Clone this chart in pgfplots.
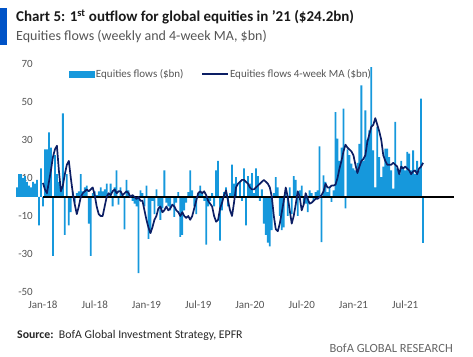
\documentclass[border=0pt]{standalone}
\usepackage{fontspec}
\setmainfont{Carlito}
\usepackage{pgfplots}
\usepackage{pgfplotstable}
\pgfplotsset{compat=1.18}
\definecolor{barblue}{RGB}{22,152,220}
\definecolor{manavy}{RGB}{12,30,100}
\definecolor{bofablue}{RGB}{0,83,199}
\definecolor{ticklbl}{RGB}{85,85,85}

\pgfplotstableread{
w v
-13 5
-12 12
-11 12
-10 10
-9 11
-8 8
-7 6
-6 5
-5 8
-4 7
-3 9
-2 -15
-1 15
0 -5
1 25
2 25
3 34
4 26
5 -31
6 22
7 12
8 8
9 4
10 44
11 -20
12 12
13 -15
14 -8
15 3
16 -3
17 2
18 3
19 12
20 3
21 5
22 6
23 -14
24 -31
25 2
26 3
27 1
28 3
29 5
30 3
31 4
32 7
33 2
34 7
35 -5
36 5
37 14
38 -4
39 5
40 1
41 -17
42 9
43 3.5
44 0.5
45 -2
46 -3.5
47 -5
48 -40
49 3.5
50 2
51 -5
52 6
53 -22
54 -19
55 -2
56 -9
57 4
58 -5
59 -12
60 -6
61 14
62 -3
63 -5
64 -7
65 0.5
66 -10.5
67 -3
68 2.5
69 -21
70 -20
71 -7
72 -3
73 2.5
74 14
75 3.5
76 -5
77 -9
78 2
79 6
80 2
81 -2
82 -25
83 -5
84 -2
85 2
86 -5
87 14
88 19
89 -23
90 -7
91 2.5
92 5
93 -5
94 2
95 17
96 7
97 10.5
98 0.5
99 8
100 -2
101 15
102 -15
103 11
104 7
105 12.6
106 2
107 15
108 11
109 -2
110 4
111 -14
112 -20
113 -24
114 -26
115 -17.5
116 2
117 10.5
118 5
119 -10
120 -17.5
121 -16
122 2
123 -10
124 5
125 -9
126 11
127 9
128 -10
129 3.5
130 6
131 -3.5
132 -3.5
133 -8
134 3.5
135 2
136 -2
137 2.6
138 3.5
139 26.7
140 -23.7
141 11.4
142 8
143 2.6
144 5
145 -2.6
146 3.5
147 44.7
148 30.7
149 19
150 26
151 46.5
152 -6
153 25
154 22
155 17.5
156 15
157 14
158 18
159 28
160 58.7
161 19
162 45.6
163 30
164 35
165 68.4
166 24.5
167 5
168 37
169 21
170 10.5
171 16
172 25.4
173 25.4
174 21
175 14
176 4.4
177 39.5
178 15
179 12
180 19
181 15.8
182 14
183 23.7
184 22.8
185 14
186 24.5
187 12
188 19
189 14
190 51.8
191 -24.2
}\flows

\pgfplotstableread{
w v
0 7.4
1 4
2 2
3 8
4 14
5 21
6 25
7 27
8 14
9 3
10 6
11 12
12 17
13 19
14 10
15 2
16 -4
17 -9
18 -5
19 0
20 2
21 3
22 4
23 3
24 4
25 5
26 1
27 -5
28 -9
29 -10
30 -10
31 -5
32 0
33 2
34 1
35 3
36 4
37 2
38 3
39 3
40 1
41 2
42 3
43 2
44 0
45 1
46 0
47 -1
48 0
49 -2
50 -2
51 -7
52 -12
53 -16
54 -19
55 -16
56 -12
57 -10
58 -6
59 -5
60 -8
61 -7
62 -5
63 -7
64 -6
65 -4
66 -5
67 -7
68 -8
69 -10
70 -8
71 -10
72 -11
73 -10
74 -12
75 -10
76 -6
77 -2
78 2
79 3
80 2
81 3
82 1
83 -2
84 -3.5
85 -5
86 -10
87 -13
88 -12
89 -6
90 -3
91 1
92 3.5
93 -2
94 -7
95 -10
96 -3
97 5
98 7
99 8
100 9
101 9
102 8
103 7
104 5
105 4
106 4
107 5
108 6
109 7
110 8
111 9
112 8
113 7
114 5
115 0
116 -10
117 -17
118 -18
119 -14
120 -8
121 -2
122 5
123 0
124 -7
125 -14
126 -10
127 -4
128 3
129 0
130 -7
131 -4
132 2
133 -1
134 -3.5
135 -3
136 -2
137 -1
138 -1
139 0
140 1
141 3
142 7
143 5
144 5
145 6
146 6
147 6.5
148 10
149 15
150 19
151 24
152 27.5
153 26
154 25
155 24
156 22
157 17
158 12.6
159 16
160 19
161 20
162 22
163 29
164 33
165 37
166 38
167 41.5
168 38
169 34.5
170 30
171 22
172 19
173 17
174 17
175 17
176 18
177 17
178 16
179 12
180 16
181 15
182 16
183 15
184 14
185 12
186 13.5
187 14
188 12
189 15
190 16
191 18
}\ma

\begin{document}
\begin{tikzpicture}[x=1pt,y=1pt]
\useasboundingbox (0,0) rectangle (473,356);
\fill[bofablue] (0,311) rectangle (7,348);
\node[anchor=base west, inner sep=0pt, font=\bfseries\fontsize{15}{17}\selectfont, text=black!90] at (16,334) {Chart 5: 1\textsuperscript{st} outflow for global equities in ’21 (\$24.2bn)};
\node[anchor=base west, inner sep=0pt, font=\fontsize{14}{16}\selectfont, text=ticklbl] at (16,315.5) {Equities flows (weekly and 4-week MA, \$bn)};
\begin{axis}[
  at={(15.1pt,64pt)}, anchor=south west, scale only axis,
  width=441.8pt, height=228pt,
  xmin=-14, xmax=208, ymin=-50, ymax=70,
  axis line style={draw=none},
  major tick length=0pt,
  ytick={-50,-30,-10,10,30,50,70},
  xtick={0,26,52,78,104,130,156,182},
  xticklabels={Jan-18,Jul-18,Jan-19,Jul-19,Jan-20,Jul-20,Jan-21,Jul-21},
  tick label style={font=\fontsize{11}{13}\selectfont, text=ticklbl},
  yticklabel style={anchor=east, inner sep=0pt, xshift=17.9pt},
  xticklabel style={anchor=north, inner sep=0pt, yshift=-9pt},
  /pgf/number format/assume math mode=true,
  clip=false,
  legend style={at={(0.122,0.956)}, anchor=west, draw=none, fill=none,
    inner sep=0pt, legend columns=2, font=\fontsize{11}{13}\selectfont,
    text=ticklbl, nodes={inner sep=0.8pt},
    /tikz/every even column/.append style={column sep=17pt}},
]
\addplot[ybar, bar width=0.9, fill=barblue, draw=none,
  legend image code/.code={\fill[barblue] (0pt,-3.5pt) rectangle (26pt,3.5pt);}]
  table[x=w,y=v] {\flows};
\addlegendentry{Equities flows (\$bn)}
\addplot[black, line width=1.1pt, forget plot] coordinates {(0,0) (206.5,0)};
\addplot[manavy, line width=1.7pt, line join=round,
  legend image code/.code={\draw[manavy, line width=1.8pt] (0pt,0pt) -- (26pt,0pt);}]
  table[x=w,y=v] {\ma};
\addlegendentry{Equities flows 4-week MA (\$bn)}
\end{axis}
\node[anchor=base west, inner sep=0pt, font=\fontsize{11.8}{14}\selectfont, text=black!85] at (17,18) {\textbf{Source:}\ \ BofA Global Investment Strategy, EPFR};
\node[anchor=base east, inner sep=0pt, font=\fontsize{12.5}{15}\selectfont, text=black!60] at (453,3.5) {BofA GLOBAL RESEARCH};
\end{tikzpicture}
\end{document}
